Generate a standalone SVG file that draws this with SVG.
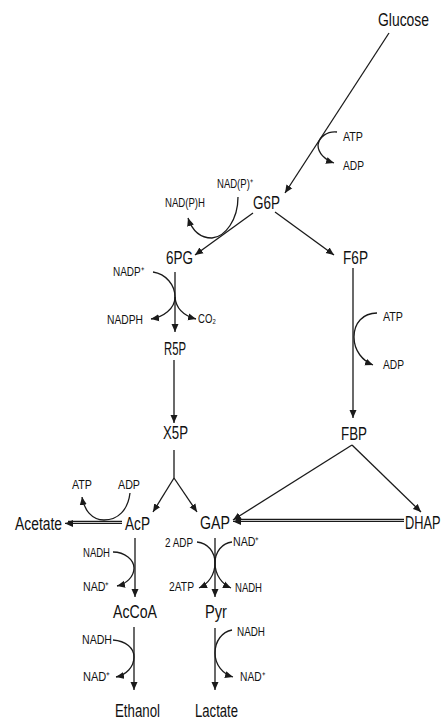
<svg xmlns="http://www.w3.org/2000/svg" width="445" height="720" viewBox="0 0 445 720">
<style>
.m{font-family:"Liberation Sans",Arial,sans-serif;font-size:17.5px;fill:#111}
.s{font-family:"Liberation Sans",Arial,sans-serif;font-size:12px;fill:#111}
.c line,.c path{stroke:#1a1a1a;stroke-width:1.3;fill:none}
</style>
<defs>
<marker id="a" markerUnits="userSpaceOnUse" markerWidth="9" markerHeight="8" refX="8" refY="4" orient="auto">
<path d="M0,0.5 L8,4 L0,7.5 Z" fill="#1a1a1a"/>
</marker>
</defs>
<rect width="445" height="720" fill="#fff"/>
<g class="c" id="connectors">
<line x1="389" y1="33" x2="285" y2="193" marker-end="url(#a)"/>
<path d="M337,132 C327,131 319,137 318,145 C318,153 325,160 334,163" marker-end="url(#a)"/>
<line x1="253" y1="213" x2="195" y2="255" marker-end="url(#a)"/>
<path d="M238,197 C238,220 225,237 212,238 C200,238 192,230 188,218" marker-end="url(#a)"/>
<line x1="275" y1="212" x2="334" y2="255" marker-end="url(#a)"/>
<line x1="175" y1="272" x2="175" y2="332" marker-end="url(#a)"/>
<path d="M153,272 C166,274 175,285 175,297 C175,309 163,317 151,319" marker-end="url(#a)"/>
<path d="M175,297 C176,309 185,316 196,319" marker-end="url(#a)"/>
<line x1="174" y1="360" x2="174" y2="423" marker-end="url(#a)"/>
<line x1="174" y1="450" x2="174" y2="478"/>
<line x1="174" y1="478" x2="153" y2="512" marker-end="url(#a)"/>
<line x1="174" y1="478" x2="197" y2="512" marker-end="url(#a)"/>
<line x1="353" y1="268" x2="353" y2="418" marker-end="url(#a)"/>
<path d="M377,313 C363,313 354,323 354,337 C354,351 363,361 373,365" marker-end="url(#a)"/>
<line x1="352" y1="445" x2="233" y2="520" marker-end="url(#a)"/>
<line x1="352" y1="445" x2="421" y2="512" marker-end="url(#a)"/>
<line x1="404" y1="519.4" x2="236" y2="519.4"/>
<line x1="404" y1="521.4" x2="233" y2="521.4" marker-end="url(#a)"/>
<line x1="122" y1="521.4" x2="68" y2="521.4"/>
<line x1="122" y1="523.4" x2="65" y2="523.4" marker-end="url(#a)"/>
<path d="M130,493 C128,510 118,520 104,520 C92,520 84,510 82,497" marker-end="url(#a)"/>
<line x1="135" y1="538" x2="135" y2="597" marker-end="url(#a)"/>
<path d="M113,552 C125,552 134,560 134,568 C134,577 126,584 117,586" marker-end="url(#a)"/>
<line x1="215" y1="538" x2="215" y2="597" marker-end="url(#a)"/>
<path d="M197,542 C208,543 215,552 215,563 C215,575 208,584 199,588" marker-end="url(#a)"/>
<path d="M232,542 C222,543 215,552 215,563 C215,575 222,584 231,588" marker-end="url(#a)"/>
<line x1="134" y1="627" x2="134" y2="690" marker-end="url(#a)"/>
<path d="M113,640 C126,641 134,648 134,657 C134,667 126,675 116,677" marker-end="url(#a)"/>
<line x1="215" y1="628" x2="215" y2="690" marker-end="url(#a)"/>
<path d="M232,630 C222,632 215,641 215,653 C215,665 223,674 233,677" marker-end="url(#a)"/>
</g>
<g id="glucose"><text class="m" x="378" y="26" textLength="51" lengthAdjust="spacingAndGlyphs">Glucose</text></g>
<g id="g6p"><text class="m" x="253" y="209" textLength="27" lengthAdjust="spacingAndGlyphs">G6P</text></g>
<g id="6pg"><text class="m" x="166" y="264" textLength="27" lengthAdjust="spacingAndGlyphs">6PG</text></g>
<g id="f6p"><text class="m" x="343" y="264" textLength="25" lengthAdjust="spacingAndGlyphs">F6P</text></g>
<g id="r5p"><text class="m" x="164" y="355" textLength="22" lengthAdjust="spacingAndGlyphs">R5P</text></g>
<g id="x5p"><text class="m" x="163" y="439" textLength="25" lengthAdjust="spacingAndGlyphs">X5P</text></g>
<g id="fbp"><text class="m" x="341" y="440" textLength="26" lengthAdjust="spacingAndGlyphs">FBP</text></g>
<g id="acetate"><text class="m" x="15" y="530" textLength="47" lengthAdjust="spacingAndGlyphs">Acetate</text></g>
<g id="acp"><text class="m" x="125" y="530" textLength="25" lengthAdjust="spacingAndGlyphs">AcP</text></g>
<g id="gap"><text class="m" x="200" y="529" textLength="30" lengthAdjust="spacingAndGlyphs">GAP</text></g>
<g id="dhap"><text class="m" transform="translate(405,529) scale(0.73,1)" x="0" y="0">DHAP</text></g>
<g id="accoa"><text class="m" x="113" y="618" textLength="44" lengthAdjust="spacingAndGlyphs">AcCoA</text></g>
<g id="pyr"><text class="m" x="205" y="618" textLength="22" lengthAdjust="spacingAndGlyphs">Pyr</text></g>
<g id="ethanol"><text class="m" x="115" y="717" textLength="45" lengthAdjust="spacingAndGlyphs">Ethanol</text></g>
<g id="lactate"><text class="m" x="195" y="717" textLength="43" lengthAdjust="spacingAndGlyphs">Lactate</text></g>
<g id="cofactors">
<text class="s" x="343" y="141" textLength="20" lengthAdjust="spacingAndGlyphs">ATP</text>
<text class="s" x="343" y="170" textLength="21" lengthAdjust="spacingAndGlyphs">ADP</text>
<text class="s" x="217" y="188" textLength="36" lengthAdjust="spacingAndGlyphs">NAD(P)⁺</text>
<text class="s" x="165" y="207" textLength="40" lengthAdjust="spacingAndGlyphs">NAD(P)H</text>
<text class="s" x="113" y="276" textLength="31" lengthAdjust="spacingAndGlyphs">NADP⁺</text>
<text class="s" x="107" y="324" textLength="36" lengthAdjust="spacingAndGlyphs">NADPH</text>
<text class="s" x="198" y="323" textLength="18" lengthAdjust="spacingAndGlyphs">CO₂</text>
<text class="s" x="383" y="321" textLength="20" lengthAdjust="spacingAndGlyphs">ATP</text>
<text class="s" x="383" y="369" textLength="21" lengthAdjust="spacingAndGlyphs">ADP</text>
<text class="s" x="72" y="489" textLength="20" lengthAdjust="spacingAndGlyphs">ATP</text>
<text class="s" x="118" y="489" textLength="22" lengthAdjust="spacingAndGlyphs">ADP</text>
<text class="s" x="83" y="557" textLength="27" lengthAdjust="spacingAndGlyphs">NADH</text>
<text class="s" x="83" y="591" textLength="26" lengthAdjust="spacingAndGlyphs">NAD⁺</text>
<text class="s" x="165" y="547" textLength="28" lengthAdjust="spacingAndGlyphs">2 ADP</text>
<text class="s" x="233" y="546" textLength="26" lengthAdjust="spacingAndGlyphs">NAD⁺</text>
<text class="s" x="169" y="591" textLength="25" lengthAdjust="spacingAndGlyphs">2ATP</text>
<text class="s" x="235" y="592" textLength="27" lengthAdjust="spacingAndGlyphs">NADH</text>
<text class="s" x="82" y="644" textLength="30" lengthAdjust="spacingAndGlyphs">NADH</text>
<text class="s" x="83" y="681" textLength="27" lengthAdjust="spacingAndGlyphs">NAD⁺</text>
<text class="s" x="237" y="636" textLength="28" lengthAdjust="spacingAndGlyphs">NADH</text>
<text class="s" x="240" y="681" textLength="25" lengthAdjust="spacingAndGlyphs">NAD⁺</text>
</g>
</svg>
